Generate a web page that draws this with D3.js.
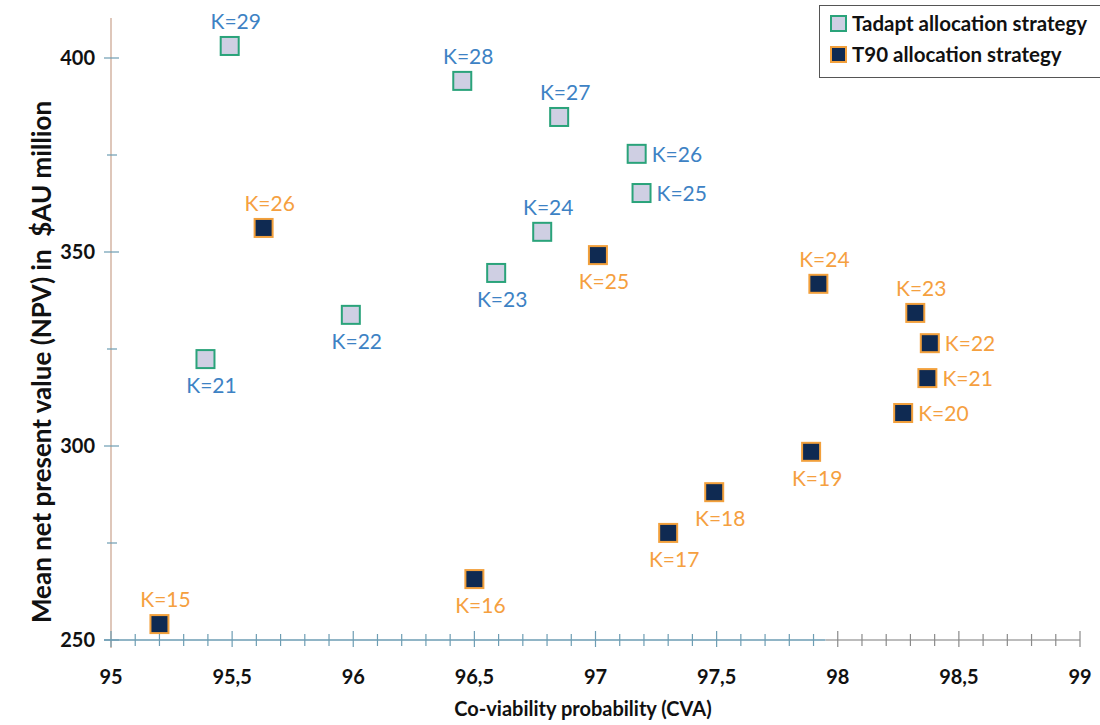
<!DOCTYPE html>
<html><head><meta charset="utf-8">
<script src="https://cdn.jsdelivr.net/npm/d3@7/dist/d3.min.js"></script>
<style>body{margin:0;background:#fff}svg{display:block}</style>
</head><body>
<svg id="c" width="1100" height="725"></svg>
<script>
// ---- data ----
const tadaptK   = [29, 28, 27, 26, 25, 24, 23, 22, 21];
const tadaptCVA = [95.49, 96.45, 96.85, 97.17, 97.19, 96.78, 96.59, 95.99, 95.39];
const tadaptNPV = [403.1, 394.1, 384.8, 375.3, 365.2, 355.2, 344.6, 333.8, 322.4];
const tadaptPos = ["top","top","top","right","right","top","bottom","bottom","bottom"];

const t90K   = [26, 25, 24, 23, 22, 21, 20, 19, 18, 17, 16, 15];
const t90CVA = [95.63, 97.01, 97.92, 98.32, 98.38, 98.37, 98.27, 97.89, 97.49, 97.30, 96.50, 95.20];
const t90NPV = [356.2, 349.2, 341.8, 334.3, 326.5, 317.5, 308.5, 298.5, 288.1, 277.6, 265.7, 254.1];
const t90Pos = ["top","bottom","top","top","right","right","right","bottom","bottom","bottom","bottom","top"];

const xTicks = [95, 95.5, 96, 96.5, 97, 97.5, 98, 98.5, 99];
const yTicks = [250, 300, 350, 400];
const seriesNames = ["Tadapt allocation strategy", "T90 allocation strategy"];

// ---- layout ----
const svg = d3.select("#c");
const FONT = "Lato, 'Open Sans', sans-serif";
const x = d3.scaleLinear().domain([95, 99]).range([111, 1080]);
const y = d3.scaleLinear().domain([250, 400]).range([640, 58]);

// y axis
const yAxisG = svg.append("g");
yAxisG.append("line").attr("x1", 111).attr("x2", 111).attr("y1", 18).attr("y2", 648)
  .attr("stroke", "#c9a28c").attr("stroke-width", 1.2);
const yMinor = d3.range(250, 401, 25);
yAxisG.selectAll("line.t").data(yMinor).join("line").attr("class","t")
  .attr("x1", d => d % 50 === 0 ? 104 : 107).attr("x2", d => d % 50 === 0 ? 119 : 117)
  .attr("y1", d => y(d)).attr("y2", d => y(d))
  .attr("stroke", "#6d9db3").attr("stroke-width", 1.2);
yAxisG.selectAll("text").data(yTicks).join("text")
  .attr("x", 95).attr("y", d => y(d) + 7).attr("text-anchor", "end")
  .attr("font-family", FONT).attr("font-weight", "bold").attr("font-size", 20).attr("fill", "#111")
  .text(d => d);

// x axis
const xAxisG = svg.append("g");
const split = 97.95;
xAxisG.append("line").attr("x1", 104).attr("x2", x(split)).attr("y1", 640).attr("y2", 640)
  .attr("stroke", "#6d9db3").attr("stroke-width", 1.5);
xAxisG.append("line").attr("x1", x(split)).attr("x2", x(99)).attr("y1", 640).attr("y2", 640)
  .attr("stroke", "#bcbcbc").attr("stroke-width", 2);
const xMinor = d3.range(0, 41).map(i => 95 + i * 0.1);
xAxisG.selectAll("line.t").data(xMinor).join("line").attr("class","t")
  .attr("x1", d => x(d)).attr("x2", d => x(d))
  .attr("y1", (d,i) => i % 5 === 0 ? 631 : 634).attr("y2", (d,i) => i % 5 === 0 ? 647 : 646)
  .attr("stroke", d => d > split ? "#8a8a8a" : "#6d9db3").attr("stroke-width", 1.2);
xAxisG.selectAll("text").data(xTicks).join("text")
  .attr("x", d => x(d)).attr("y", 684).attr("text-anchor", "middle")
  .attr("font-family", FONT).attr("font-weight", "bold").attr("font-size", 20).attr("fill", "#111")
  .text(d => String(d).replace(".", ","));

// axis titles
svg.append("text").attr("x", 583).attr("y", 716).attr("text-anchor", "middle")
  .attr("font-family", FONT).attr("font-weight", "bold").attr("font-size", 20).attr("fill", "#111")
  .text("Co-viability probability (CVA)");
svg.append("text").attr("transform", "translate(51,362) rotate(-90)").attr("text-anchor", "middle")
  .attr("font-family", FONT).attr("font-weight", "bold").attr("font-size", 26).attr("fill", "#111")
  .attr("xml:space", "preserve")
  .text("Mean net present value (NPV) in  $AU million");

// points
const S = 18;
function drawSeries(K, cva, npv, pos, fill, stroke, labelColor) {
  const data = K.map((k, i) => ({k, cx: x(cva[i]), cy: y(npv[i]), pos: pos[i]}));
  const g = svg.append("g");
  g.selectAll("rect").data(data).join("rect")
    .attr("x", d => d.cx - S/2).attr("y", d => d.cy - S/2).attr("width", S).attr("height", S)
    .attr("fill", fill).attr("stroke", stroke).attr("stroke-width", 2);
  g.selectAll("text").data(data).join("text")
    .attr("x", d => d.pos === "right" ? d.cx + 15 : d.cx + 6)
    .attr("y", d => d.pos === "top" ? d.cy - 17 : d.pos === "bottom" ? d.cy + 34 : d.cy + 8)
    .attr("text-anchor", d => d.pos === "right" ? "start" : "middle")
    .attr("font-family", FONT).attr("font-size", 21).attr("fill", labelColor)
    .text(d => "K=" + d.k);
}
drawSeries(tadaptK, tadaptCVA, tadaptNPV, tadaptPos, "#cfcfe3", "#2aa37a", "#3d82c4");
drawSeries(t90K, t90CVA, t90NPV, t90Pos, "#0f2a52", "#f2a03c", "#f5a03f");

// legend
const lg = svg.append("g");
lg.append("rect").attr("x", 819.5).attr("y", 5.5).attr("width", 290).attr("height", 72)
  .attr("fill", "#fff").attr("stroke", "#555").attr("stroke-width", 1);
const legendStyles = [{fill:"#cfcfe3", stroke:"#2aa37a"}, {fill:"#0f2a52", stroke:"#f2a03c"}];
seriesNames.forEach((name, i) => {
  const cy = 24 + i * 31;
  lg.append("rect").attr("x", 831).attr("y", cy - 8).attr("width", 15).attr("height", 15)
    .attr("fill", legendStyles[i].fill).attr("stroke", legendStyles[i].stroke).attr("stroke-width", 2);
  lg.append("text").attr("x", 852).attr("y", cy + 7)
    .attr("font-family", FONT).attr("font-weight", "bold").attr("font-size", 20.5).attr("fill", "#111")
    .text(name);
});
</script>
</body></html>
